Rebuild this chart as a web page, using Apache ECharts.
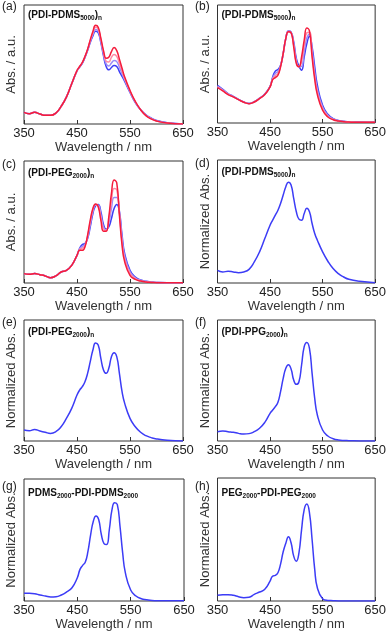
<!DOCTYPE html>
<html>
<head>
<meta charset="utf-8">
<script src="https://cdn.jsdelivr.net/npm/echarts@6/dist/echarts.min.js"></script>
<style>
html, body { margin: 0; padding: 0; background: #fff; }
#main { width: 389px; height: 633px; }
</style>
</head>
<body>
<div id="main"></div>
<script>
// wavelength grid (nm)
const wavelengths = [350,360,370,380,390,400,410,420,430,440,450,455,460,465,470,475,480,485,490,495,500,505,510,515,520,525,530,535,540,550,560,570,580,590,600,620,650];
const xTicks = [350, 450, 550, 650];

// (a) (PDI-PDMS5000)n, blue -> red
const aBlue = [0.098,0.087,0.098,0.084,0.073,0.073,0.092,0.148,0.226,0.338,0.445,0.478,0.510,0.560,0.617,0.684,0.740,0.780,0.768,0.684,0.573,0.483,0.455,0.475,0.492,0.483,0.441,0.400,0.357,0.265,0.180,0.120,0.078,0.050,0.030,0.011,0];
const aLav = [0.098,0.087,0.098,0.084,0.073,0.073,0.092,0.148,0.226,0.338,0.447,0.480,0.513,0.563,0.621,0.693,0.752,0.795,0.783,0.697,0.590,0.505,0.487,0.513,0.533,0.524,0.478,0.422,0.370,0.270,0.183,0.120,0.076,0.048,0.028,0.010,0];
const aPink = [0.098,0.087,0.098,0.084,0.073,0.073,0.092,0.148,0.226,0.338,0.449,0.482,0.515,0.565,0.625,0.700,0.765,0.812,0.798,0.709,0.603,0.528,0.522,0.560,0.585,0.568,0.510,0.445,0.382,0.276,0.186,0.120,0.073,0.045,0.026,0.009,0];
const aRed = [0.098,0.087,0.098,0.084,0.073,0.073,0.092,0.148,0.226,0.338,0.450,0.483,0.517,0.567,0.628,0.707,0.777,0.830,0.813,0.721,0.617,0.553,0.561,0.609,0.642,0.617,0.545,0.469,0.394,0.282,0.190,0.120,0.070,0.042,0.025,0.008,0];

// (b) (PDI-PDMS5000)n
const bBlue = [0.320,0.285,0.250,0.225,0.200,0.178,0.166,0.180,0.210,0.245,0.310,0.390,0.440,0.453,0.490,0.589,0.717,0.779,0.770,0.688,0.547,0.482,0.448,0.560,0.674,0.735,0.646,0.476,0.320,0.150,0.074,0.037,0.022,0.014,0.011,0.008,0.006];
const bLav = [0.313,0.280,0.247,0.223,0.199,0.177,0.165,0.179,0.209,0.243,0.308,0.380,0.420,0.435,0.485,0.589,0.717,0.777,0.768,0.672,0.530,0.478,0.480,0.605,0.720,0.755,0.615,0.430,0.285,0.135,0.066,0.034,0.020,0.013,0.010,0.007,0.006];
const bPink = [0.306,0.276,0.244,0.222,0.198,0.176,0.164,0.178,0.208,0.242,0.307,0.374,0.400,0.418,0.480,0.589,0.717,0.775,0.767,0.660,0.516,0.476,0.520,0.655,0.765,0.770,0.585,0.398,0.262,0.120,0.058,0.031,0.018,0.012,0.009,0.006,0.006];
const bRed = [0.300,0.272,0.241,0.221,0.198,0.176,0.164,0.178,0.207,0.241,0.306,0.368,0.385,0.405,0.476,0.589,0.717,0.773,0.765,0.646,0.504,0.476,0.561,0.703,0.805,0.780,0.560,0.370,0.240,0.108,0.051,0.028,0.017,0.011,0.008,0.006,0.006];

// (c) (PDI-PEG2000)n
const cBlue = [0.077,0.071,0.077,0.068,0.058,0.044,0.058,0.090,0.104,0.145,0.227,0.285,0.315,0.323,0.364,0.460,0.570,0.633,0.644,0.584,0.479,0.441,0.460,0.529,0.611,0.644,0.584,0.392,0.241,0.104,0.049,0.025,0.014,0.008,0.005,0.003,0.003];
const cLav = [0.077,0.071,0.077,0.068,0.058,0.044,0.058,0.090,0.104,0.145,0.227,0.280,0.300,0.315,0.372,0.480,0.585,0.638,0.638,0.560,0.460,0.435,0.490,0.610,0.700,0.700,0.590,0.370,0.220,0.092,0.043,0.022,0.012,0.007,0.004,0.003,0.003];
const cPink = [0.077,0.071,0.077,0.068,0.058,0.044,0.058,0.090,0.104,0.145,0.227,0.275,0.285,0.305,0.382,0.497,0.598,0.643,0.632,0.540,0.442,0.430,0.515,0.670,0.775,0.765,0.575,0.340,0.195,0.078,0.036,0.019,0.010,0.006,0.004,0.003,0.003];
const cRed = [0.077,0.071,0.077,0.068,0.058,0.044,0.058,0.090,0.104,0.145,0.227,0.268,0.268,0.296,0.392,0.515,0.611,0.648,0.625,0.515,0.425,0.425,0.542,0.734,0.845,0.820,0.556,0.310,0.173,0.063,0.030,0.016,0.008,0.005,0.003,0.003,0.003];

// (d)-(h) normalized spectra
const dNorm = [0.103,0.090,0.095,0.090,0.084,0.090,0.111,0.171,0.253,0.361,0.470,0.511,0.552,0.592,0.647,0.715,0.783,0.820,0.796,0.688,0.579,0.519,0.511,0.565,0.608,0.579,0.484,0.402,0.348,0.253,0.177,0.117,0.076,0.049,0.030,0.014,0.003];
const eNorm = [0.091,0.085,0.096,0.083,0.072,0.063,0.077,0.118,0.187,0.270,0.380,0.421,0.449,0.490,0.559,0.656,0.752,0.810,0.793,0.683,0.587,0.559,0.601,0.697,0.730,0.697,0.559,0.408,0.311,0.187,0.118,0.072,0.044,0.028,0.017,0.006,0];
const fNorm = [0.077,0.083,0.077,0.072,0.063,0.058,0.061,0.077,0.105,0.154,0.229,0.256,0.284,0.320,0.408,0.518,0.601,0.630,0.595,0.504,0.468,0.490,0.628,0.780,0.815,0.766,0.559,0.353,0.215,0.091,0.041,0.019,0.008,0.004,0.003,0.001,0];
const gNorm = [0.063,0.063,0.060,0.049,0.041,0.033,0.035,0.049,0.074,0.109,0.191,0.259,0.292,0.319,0.409,0.545,0.654,0.697,0.668,0.545,0.471,0.463,0.586,0.749,0.806,0.790,0.613,0.395,0.232,0.090,0.041,0.019,0.011,0.005,0.003,0.003,0.003];
const hNorm = [0.046,0.051,0.051,0.046,0.035,0.027,0.030,0.054,0.073,0.095,0.162,0.203,0.208,0.230,0.300,0.400,0.470,0.522,0.473,0.365,0.324,0.392,0.581,0.743,0.788,0.716,0.500,0.257,0.108,0.019,0.005,0.003,0.001,0,0,0,0];

const BLUE = '#3c3cf6', LAV = '#9c8cf8', PINK = '#ff8aa6', RED = '#f41c3c';

const panels = [
    { letter: '(a)', title: '{b|(PDI-PDMS}{s|5000}{b|)}{s|n}', yName: 'Abs. / a.u.', box: [24, 5, 159, 119], letterY: 8, titleY: 15,
      lines: [[aBlue, BLUE], [aLav, LAV], [aPink, PINK], [aRed, RED]] },
    { letter: '(b)', title: '{b|(PDI-PDMS}{s|5000}{b|)}{s|n}', yName: 'Abs. / a.u.', box: [217.5, 5, 160, 118], letterY: 8, titleY: 15,
      lines: [[bBlue, BLUE], [bLav, LAV], [bPink, PINK], [bRed, RED]] },
    { letter: '(c)', title: '{b|(PDI-PEG}{s|2000}{b|)}{s|n}', yName: 'Abs. / a.u.', box: [24, 161, 159, 122], letterY: 166, titleY: 173,
      lines: [[cBlue, BLUE], [cLav, LAV], [cPink, PINK], [cRed, RED]] },
    { letter: '(d)', title: '{b|(PDI-PDMS}{s|5000}{b|)}{s|n}', yName: 'Normalized Abs.', box: [217.5, 160, 160, 123], letterY: 165, titleY: 172,
      lines: [[dNorm, BLUE]] },
    { letter: '(e)', title: '{b|(PDI-PEG}{s|2000}{b|)}{s|n}', yName: 'Normalized Abs.', box: [24, 320, 159, 121], letterY: 324, titleY: 332,
      lines: [[eNorm, BLUE]] },
    { letter: '(f)', title: '{b|(PDI-PPG}{s|2000}{b|)}{s|n}', yName: 'Normalized Abs.', box: [217.5, 320, 160, 121], letterY: 324, titleY: 332,
      lines: [[fNorm, BLUE]] },
    { letter: '(g)', title: '{b|PDMS}{s|2000}{b|-PDI-PDMS}{s|2000}', yName: 'Normalized Abs.', box: [24, 479, 160, 122], letterY: 488, titleY: 493,
      lines: [[gNorm, BLUE]] },
    { letter: '(h)', title: '{b|PEG}{s|2000}{b|-PDI-PEG}{s|2000}', yName: 'Normalized Abs.', box: [217.5, 478, 160, 123], letterY: 488, titleY: 493,
      lines: [[hNorm, BLUE]] }
];

const FONT = 'Liberation Sans, Arial, sans-serif';
const grid = [], xAxis = [], yAxis = [], series = [], graphic = [];

panels.forEach((p, i) => {
    const [left, top, width, height] = p.box;
    grid.push({ left: left, top: top, width: width, height: height, show: true, borderColor: '#333', borderWidth: 1, backgroundColor: 'transparent' });
    xAxis.push({
        gridIndex: i, type: 'value', min: xTicks[0], max: xTicks[xTicks.length - 1], interval: 100,
        name: 'Wavelength / nm', nameLocation: 'middle', nameGap: 16,
        nameTextStyle: { fontFamily: FONT, fontSize: 13, color: '#333' },
        axisLine: { show: false },
        axisTick: { show: true, inside: true, length: 4, lineStyle: { color: '#333' } },
        axisLabel: { fontFamily: FONT, fontSize: 13, color: '#222', margin: 3 },
        splitLine: { show: false }
    });
    yAxis.push({
        gridIndex: i, type: 'value', min: 0, max: 1,
        name: p.yName, nameLocation: 'middle', nameGap: 6,
        nameTextStyle: { fontFamily: FONT, fontSize: 13, color: '#333' },
        axisLine: { show: false }, axisTick: { show: false }, axisLabel: { show: false }, splitLine: { show: false }
    });
    p.lines.forEach(([vals, color]) => {
        series.push({
            type: 'line', xAxisIndex: i, yAxisIndex: i, showSymbol: false, smooth: 0.5,
            lineStyle: { color: color, width: 1.5 }, itemStyle: { color: color },
            data: wavelengths.map((w, j) => [w, vals[j]])
        });
    });
    graphic.push({
        type: 'text', left: (left < 100 ? 2 : 195), top: p.letterY - 7,
        style: { text: p.letter, fontFamily: FONT, fontSize: 12, fill: '#222' }
    });
    graphic.push({
        type: 'text', x: left + 4, y: p.titleY, z: 100,
        style: {
            text: p.title, verticalAlign: 'middle', fill: '#111',
            rich: {
                b: { fontFamily: FONT, fontSize: 10, fontWeight: 'bold', fill: '#111', lineHeight: 14 },
                s: { fontFamily: FONT, fontSize: 6.5, fontWeight: 'bold', fill: '#111', lineHeight: 8, verticalAlign: 'bottom' }
            }
        }
    });
});

const myChart = echarts.init(document.getElementById('main'));
myChart.setOption({
    animation: false,
    backgroundColor: '#fff',
    grid: grid,
    xAxis: xAxis,
    yAxis: yAxis,
    series: series,
    graphic: graphic
});
</script>
</body>
</html>
